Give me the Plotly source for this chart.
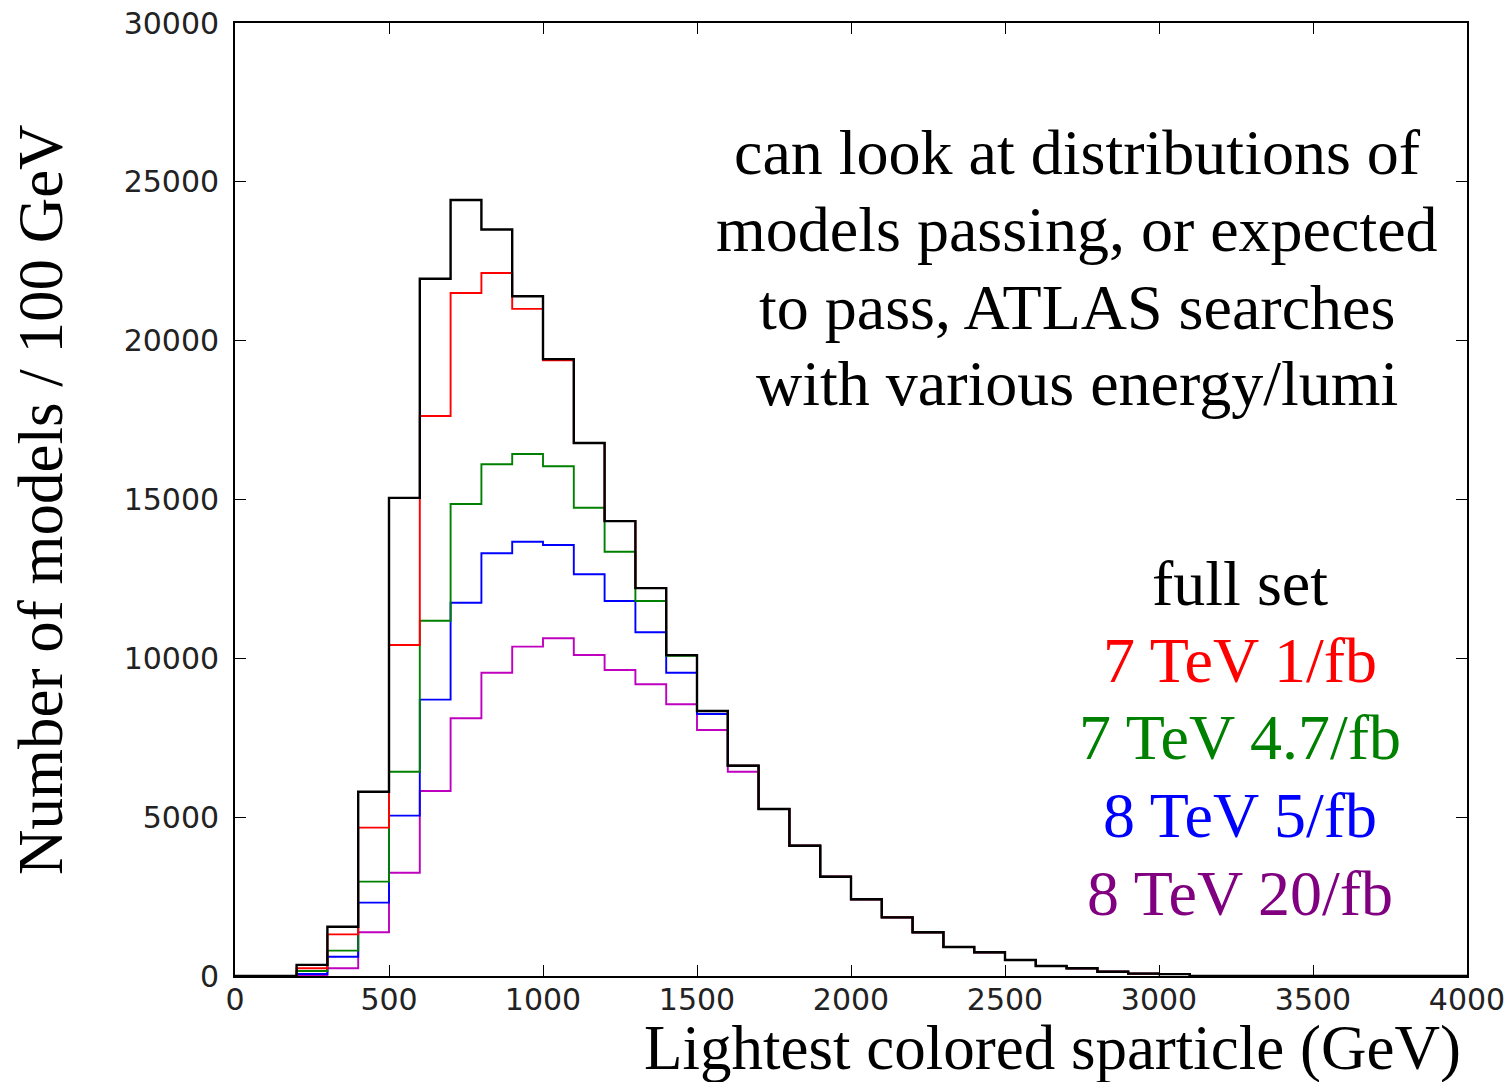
import plotly.graph_objects as go

# Bin edges: 0..4000 GeV in 100 GeV bins
bin_edges = list(range(0, 4100, 100))

full_set = [0, 0, 350, 1550, 5800, 15050, 21950, 24430, 23500, 21400,
            19420, 16780, 14320, 12210, 10100, 8340, 6620, 5257, 4102, 3126,
            2414, 1847, 1375, 913, 746, 504, 315, 242, 135, 75,
            60, 0, 0, 0, 0, 0, 0, 0, 0, 0]

tev7_1fb = [0, 0, 242, 1310, 4670, 10420, 17630, 21500, 22130, 21000,
            19380, 16780, 14320, 12210, 10100, 8340, 6620, 5257, 4102, 3126,
            2414, 1847, 1375, 913, 746, 504, 315, 242, 135, 75,
            60, 0, 0, 0, 0, 0, 0, 0, 0, 0]

tev7_47fb = [0, 0, 157, 800, 2970, 6430, 11185, 14860, 16110, 16430,
             16045, 14740, 13357, 11805, 10080, 8340, 6620, 5257, 4102, 3126,
             2414, 1847, 1375, 913, 746, 504, 315, 242, 135, 75,
             60, 0, 0, 0, 0, 0, 0, 0, 0, 0]

tev8_5fb = [0, 0, 63, 608, 2310, 5047, 8700, 11750, 13306, 13672,
            13568, 12645, 11805, 10819, 9548, 8250, 6620, 5257, 4102, 3126,
            2414, 1847, 1375, 913, 746, 504, 315, 242, 135, 75,
            60, 0, 0, 0, 0, 0, 0, 0, 0, 0]

tev8_20fb = [0, 0, 15, 242, 1375, 3252, 5824, 8112, 9548, 10367,
             10630, 10105, 9633, 9182, 8553, 7744, 6430, 5257, 4102, 3126,
             2414, 1847, 1375, 913, 746, 504, 315, 242, 135, 75,
             60, 0, 0, 0, 0, 0, 0, 0, 0, 0]

series_labels = ["full set", "7 TeV 1/fb", "7 TeV 4.7/fb", "8 TeV 5/fb", "8 TeV 20/fb"]
line_colors = ["#000000", "#ff0000", "#008000", "#0000ff", "#bf00bf"]
label_colors = ["#000000", "#ff0000", "#008000", "#0000ff", "#800080"]
series_values = [full_set, tev7_1fb, tev7_47fb, tev8_5fb, tev8_20fb]

note_lines = ["can look at distributions of",
              "models passing, or expected",
              "to pass, ATLAS searches",
              "with various energy/lumi"]

x_title = "Lightest colored sparticle (GeV)"
y_title = "Number of models / 100 GeV"

x_ticks = list(range(0, 4001, 500))
y_ticks = list(range(0, 30001, 5000))

# Figure geometry
W, H = 1512, 1082
L, R, T, B = 235, 45, 23, 106
PW, PH = W - L - R, H - T - B


def px_to_paper(px, py):
    return (px - L) / PW, (H - B - py) / PH


fig = go.Figure()

# draw magenta first, black last
for vals, col, name in reversed(list(zip(series_values, line_colors, series_labels))):
    ys = vals + [vals[-1]]
    fig.add_trace(go.Scatter(
        x=bin_edges, y=ys, mode="lines",
        line=dict(shape="hv", color=col, width=2.4 if col == "#000000" else 1.9),
        name=name, showlegend=False, hoverinfo="skip"))

serif = "Liberation Serif, Times New Roman, serif"
annotations = []

# note text
note_baselines = [175, 252, 330, 406]
for txt, bl in zip(note_lines, note_baselines):
    xp, yp = px_to_paper(1077, bl + 15)
    annotations.append(dict(text=txt, x=xp, y=yp, xref="paper", yref="paper",
                            xanchor="center", yanchor="bottom", showarrow=False,
                            font=dict(family=serif, size=64, color="#000000")))

# legend-like labels
label_baselines = [606, 683, 760, 838, 916]
for txt, col, bl in zip(series_labels, label_colors, label_baselines):
    xp, yp = px_to_paper(1240, bl + 15)
    annotations.append(dict(text=txt, x=xp, y=yp, xref="paper", yref="paper",
                            xanchor="center", yanchor="bottom", showarrow=False,
                            font=dict(family=serif, size=64, color=col)))

# axis titles
xp, yp = px_to_paper(1463, 1085)
annotations.append(dict(text=x_title, x=xp, y=yp, xref="paper", yref="paper",
                        xanchor="right", yanchor="bottom", showarrow=False,
                        font=dict(family=serif, size=63, color="#000000")))
xp, yp = px_to_paper(41, 500)
annotations.append(dict(text=y_title, x=xp, y=yp, xref="paper", yref="paper",
                        xanchor="center", yanchor="middle", textangle=-90, showarrow=False,
                        font=dict(family=serif, size=63, color="#000000")))

tick_font = dict(family="DejaVu Sans, sans-serif", size=30, color="#222222")

fig.update_layout(
    width=W, height=H,
    margin=dict(l=L, r=R, t=T, b=B, pad=0),
    paper_bgcolor="white", plot_bgcolor="white",
    annotations=annotations,
    xaxis=dict(range=[0, 4000], tickvals=x_ticks,
               ticktext=[str(v) for v in x_ticks],
               ticks="inside", ticklen=11, tickwidth=1.2, tickcolor="#000000",
               showline=True, linecolor="#000000", linewidth=1.8, mirror="allticks",
               showgrid=False, zeroline=False, tickfont=tick_font,
               automargin=False, ticklabelstandoff=-4),
    yaxis=dict(range=[0, 30000], tickvals=y_ticks,
               ticktext=[str(v) for v in y_ticks],
               ticks="inside", ticklen=11, tickwidth=1.2, tickcolor="#000000",
               showline=True, linecolor="#000000", linewidth=1.8, mirror="allticks",
               showgrid=False, zeroline=False, tickfont=tick_font,
               automargin=False, ticklabelstandoff=8),
)

fig.write_html("out.html")
